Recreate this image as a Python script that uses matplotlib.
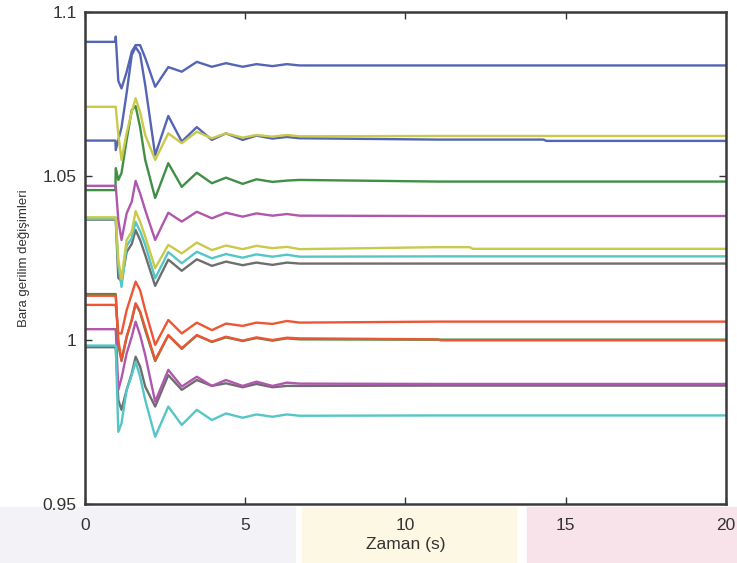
import matplotlib
matplotlib.use("Agg")
import matplotlib.pyplot as plt
import matplotlib.patches as mpatches

plt.rcParams["font.family"] = ["Liberation Sans", "DejaVu Sans"]

# time grid (s) shared by all bus voltage traces
t = [0, 0.95, 0.96, 1.04, 1.14, 1.3, 1.46, 1.58, 1.72, 1.88, 2.19, 2.6, 3.02,
     3.49, 3.96, 4.4, 4.92, 5.35, 5.85, 6.3, 6.7,
     11.0, 11.1, 12.0, 12.1, 14.3, 14.4, 20]

blue1 = [1.0909, 1.0909, 1.0925, 1.0790, 1.0767, 1.0817, 1.0879, 1.0899, 1.0899, 1.0860, 1.0772,
         1.0832, 1.0818, 1.0848, 1.0833, 1.0844, 1.0833, 1.0841, 1.0835, 1.0841, 1.0837] + [1.0837] * 7
yellow1 = [1.0711, 1.0711, 1.0711, 1.0625, 1.0549, 1.0631, 1.0695, 1.0737, 1.0695, 1.0625, 1.0549,
           1.0630, 1.0600, 1.0635, 1.0615, 1.0630, 1.0617, 1.0625, 1.0620, 1.0625, 1.0621] + [1.0622] * 7
blue2 = [1.0608, 1.0608, 1.0579, 1.0610, 1.0648, 1.0753, 1.0869, 1.0893, 1.0872, 1.0777, 1.0564,
         1.0683, 1.0605, 1.0649, 1.0610, 1.0630, 1.0610, 1.0623, 1.0614, 1.0619, 1.0615,
         1.0611, 1.0611, 1.0611, 1.0611, 1.0611, 1.0607, 1.0607]
green1 = [1.0457, 1.0457, 1.0524, 1.0488, 1.0509, 1.0610, 1.0701, 1.0713, 1.0649, 1.0549, 1.0433,
          1.0539, 1.0467, 1.0510, 1.0478, 1.0495, 1.0476, 1.0490, 1.0482, 1.0486, 1.0488] + [1.0483] * 7
magenta1 = [1.0470, 1.0470, 1.0470, 1.0366, 1.0305, 1.0386, 1.0422, 1.0485, 1.0447, 1.0396, 1.0305,
            1.0388, 1.0361, 1.0391, 1.0371, 1.0388, 1.0376, 1.0386, 1.0379, 1.0384, 1.0379] + [1.0378] * 7
yellow2 = [1.0374, 1.0374, 1.0374, 1.0244, 1.0186, 1.0305, 1.0330, 1.0393, 1.0361, 1.0315, 1.0219,
           1.0290, 1.0264, 1.0297, 1.0274, 1.0288, 1.0277, 1.0287, 1.0280, 1.0284, 1.0277,
           1.0283, 1.0283, 1.0283, 1.0278, 1.0278, 1.0278, 1.0278]
cyan1 = [1.0369, 1.0369, 1.0369, 1.0229, 1.0162, 1.0287, 1.0311, 1.0360, 1.0332, 1.0290, 1.0188,
         1.0268, 1.0234, 1.0269, 1.0249, 1.0262, 1.0251, 1.0261, 1.0254, 1.0260, 1.0254] + [1.0255] * 7
gray1 = [1.0367, 1.0367, 1.0367, 1.0189, 1.0180, 1.0268, 1.0293, 1.0335, 1.0305, 1.0259, 1.0165,
         1.0245, 1.0211, 1.0246, 1.0226, 1.0239, 1.0228, 1.0236, 1.0229, 1.0236, 1.0233] + [1.0233] * 7
green2 = [1.0140, 1.0140, 1.0140, 0.9985, 0.9936, 1.0009, 1.0061, 1.0110, 1.0085, 1.0030, 0.9936,
          1.0014, 0.9973, 1.0014, 0.9994, 1.0008, 0.9997, 1.0006, 0.9998, 1.0005, 1.0002] + [1.0001] * 7
red1 = [1.0135, 1.0135, 1.0135, 1.0000, 0.9939, 1.0010, 1.0061, 1.0112, 1.0086, 1.0037, 0.9939,
        1.0015, 0.9975, 1.0015, 0.9995, 1.0010, 0.9998, 1.0008, 1.0000, 1.0007, 1.0005,
        1.0002, 0.9999, 0.9999, 0.9999, 0.9999, 0.9999, 0.9999]
red2 = [1.0107, 1.0107, 1.0107, 1.0020, 1.0020, 1.0091, 1.0140, 1.0178, 1.0152, 1.0091, 0.9985,
        1.0061, 1.0020, 1.0053, 1.0030, 1.0050, 1.0043, 1.0053, 1.0049, 1.0058, 1.0053] + [1.0056] * 7
magenta2 = [1.0033, 1.0033, 1.0033, 0.9848, 0.9884, 0.9959, 1.0010, 1.0056, 1.0015, 0.9954, 0.9812,
            0.9909, 0.9858, 0.9888, 0.9860, 0.9878, 0.9860, 0.9873, 0.9860, 0.9870, 0.9867] + [0.9866] * 7
gray2 = [0.9978, 0.9978, 0.9978, 0.9817, 0.9787, 0.9848, 0.9898, 0.9949, 0.9919, 0.9858, 0.9797,
         0.9893, 0.9848, 0.9878, 0.9860, 0.9868, 0.9856, 0.9866, 0.9856, 0.9860, 0.9860] + [0.9861] * 7
cyan2 = [0.9983, 0.9983, 0.9983, 0.9720, 0.9746, 0.9848, 0.9893, 0.9934, 0.9888, 0.9817, 0.9705,
         0.9797, 0.9741, 0.9787, 0.9756, 0.9776, 0.9763, 0.9773, 0.9766, 0.9773, 0.9769] + [0.9770] * 7

BLUE, YELLOW, GREEN = "#5565b5", "#c9c94a", "#3f8f45"
MAGENTA, CYAN, GRAY, RED = "#b057ad", "#55c6c8", "#6e6e6e", "#ee5535"

series = [
    (gray1, GRAY), (cyan1, CYAN), (yellow2, YELLOW),
    (gray2, GRAY), (magenta2, MAGENTA), (cyan2, CYAN),
    (green2, GREEN), (red1, RED), (red2, RED),
    (green1, GREEN), (magenta1, MAGENTA),
    (blue2, BLUE), (yellow1, YELLOW), (blue1, BLUE),
]

fig = plt.figure(figsize=(7.37, 5.63), dpi=100)

# faint watermark colours below the axes
for x0, w, c in [(0.0, 0.40, "#f3f3f7"), (0.41, 0.29, "#fdf8e4"), (0.715, 0.285, "#f9e3ea")]:
    fig.patches.append(mpatches.Rectangle((x0, 0.0), w, 0.1, transform=fig.transFigure,
                                          color=c, zorder=-10))

ax = fig.add_axes([0.1153, 0.1048, 0.8697, 0.8739])
for vals, col in series:
    ax.plot(t, vals, color=col, lw=1.7)

ax.set_xlim(0, 20)
ax.set_ylim(0.95, 1.1)
ax.set_xticks([0, 5, 10, 15, 20])
ax.set_yticks([0.95, 1.0, 1.05, 1.1])
ax.set_yticklabels(["0.95", "1", "1.05", "1.1"])
ax.tick_params(direction="in", length=5, width=1, top=True, right=True,
               labelsize=12.5, colors="#333333")
ax.tick_params(axis="x", pad=10)
ax.tick_params(axis="y", pad=6)
for s in ax.spines.values():
    s.set_linewidth(1.8)
    s.set_color("#3a3a3a")

ax.set_xlabel("Zaman (s)", fontsize=12.5, color="#333333", labelpad=3)
ax.set_ylabel("Bara gerilim değişimleri", fontsize=9.5, color="#333333", labelpad=9)

fig.savefig("out.png", dpi=100)
